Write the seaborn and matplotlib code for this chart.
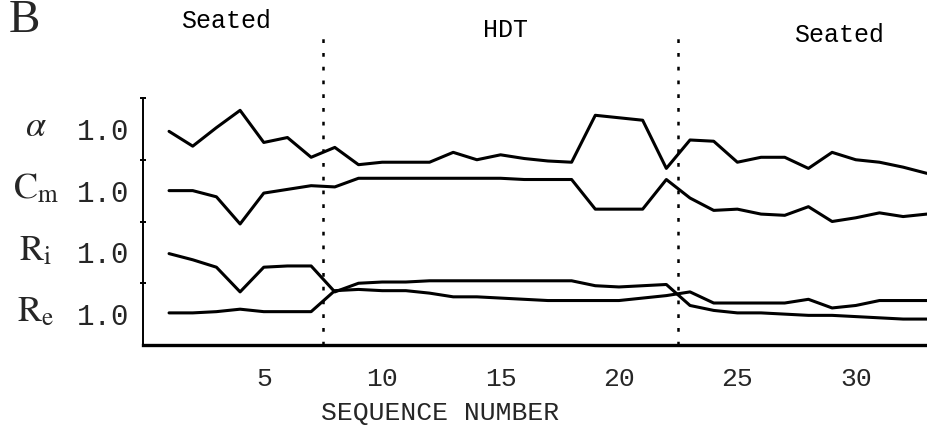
import numpy as np
import pandas as pd
import matplotlib
matplotlib.use("Agg")
import matplotlib.pyplot as plt
import seaborn as sns

# ---- data ----
seq = list(range(1, 34))
alpha = [0.98, 0.86, 1.01, 1.15, 0.89, 0.93, 0.77, 0.85, 0.71, 0.73, 0.73, 0.73, 0.81,
         0.75, 0.79, 0.76, 0.74, 0.73, 1.11, 1.09, 1.07, 0.68, 0.91, 0.90, 0.73, 0.77,
         0.77, 0.68, 0.81, 0.75, 0.73, 0.69, 0.64]
c_m = [1.00, 1.00, 0.95, 0.73, 0.98, 1.01, 1.04, 1.03, 1.10, 1.10, 1.10, 1.10, 1.10,
       1.10, 1.10, 1.09, 1.09, 1.09, 0.85, 0.85, 0.85, 1.09, 0.94, 0.84, 0.85, 0.81,
       0.80, 0.87, 0.75, 0.78, 0.82, 0.79, 0.81]
r_i = [0.99, 0.94, 0.88, 0.68, 0.88, 0.89, 0.89, 0.68, 0.75, 0.76, 0.76, 0.77, 0.77,
       0.77, 0.77, 0.77, 0.77, 0.77, 0.73, 0.72, 0.73, 0.74, 0.57, 0.53, 0.51, 0.51,
       0.50, 0.49, 0.49, 0.48, 0.47, 0.46, 0.46]
r_e = [1.01, 1.01, 1.02, 1.04, 1.02, 1.02, 1.02, 1.19, 1.20, 1.19, 1.19, 1.17, 1.14,
       1.14, 1.13, 1.12, 1.11, 1.11, 1.11, 1.11, 1.13, 1.15, 1.18, 1.09, 1.09, 1.09,
       1.09, 1.12, 1.05, 1.07, 1.11, 1.11, 1.11]
series_names = ["alpha", "Cm", "Ri", "Re"]
series_labels = [r"$\alpha$", r"$\mathrm{C}_{\mathrm{m}}$", r"$\mathrm{R}_{\mathrm{i}}$", r"$\mathrm{R}_{\mathrm{e}}$"]
baseline_labels = ["1.0", "1.0", "1.0", "1.0"]
x_ticks = [5, 10, 15, 20, 25, 30]
phase_bounds = [7.5, 22.5]
phase_labels = ["Seated", "HDT", "Seated"]
phase_label_x = [3.4, 15.2, 29.3]
phase_label_y = [5.24, 5.1, 5.02]

# stacking: each trace drawn in its own band, ratio 1.0 at band centre
offsets = [3.5, 2.5, 1.5, 0.5]
gain = 2.0

rows = []
for name, vals, off in zip(series_names, [alpha, c_m, r_i, r_e], offsets):
    for n, v in zip(seq, vals):
        rows.append({"seq": n, "series": name, "y": off + (v - 1.0) * gain})
df = pd.DataFrame(rows)

sns.set_theme(style="white")
plt.rcParams["font.family"] = ["Liberation Mono", "DejaVu Sans"]
plt.rcParams["mathtext.fontset"] = "stix"

fig = plt.figure(figsize=(9.28, 4.46), dpi=100)
ax = fig.add_axes([143 / 928, (446 - 345) / 446, 1 - 143 / 928, 345 / 446])

sns.lineplot(data=df, x="seq", y="y", units="series", estimator=None,
             color="black", lw=2.2, ax=ax, legend=False)

ax.set_xlim(-0.1, 33.05)
ax.set_ylim(0, 345 / 61.75)

for xb in phase_bounds:
    ax.plot([xb, xb], [0, 5.02], color="black", lw=1.8, ls=(0, (1.5, 4)), clip_on=False)

for lbl, xl, yl in zip(phase_labels, phase_label_x, phase_label_y):
    ax.text(xl, yl, lbl, ha="center", va="center", fontsize=18, color="black")

ax.spines["top"].set_visible(False)
ax.spines["right"].set_visible(False)
ax.spines["left"].set_bounds(0, 4)
ax.spines["left"].set_linewidth(1.4)
ax.spines["bottom"].set_linewidth(2.4)
for s in ["left", "bottom"]:
    ax.spines[s].set_color("black")

ax.set_xticks(x_ticks)
ax.set_xticklabels([str(t) for t in x_ticks], fontsize=19)
ax.tick_params(axis="x", length=0, pad=16)

ax.set_yticks(offsets)
ax.set_yticklabels(baseline_labels, fontsize=21)
ax.set_yticks([1, 2, 3, 4], minor=True)
ax.tick_params(axis="y", which="major", length=0, pad=10)
ax.tick_params(axis="y", which="minor", left=True, length=5, width=1.4, direction="inout", color="black")

ax.set_xlabel("SEQUENCE NUMBER", fontsize=19)
ax.xaxis.set_label_coords((440 - 143) / 785, -(401 - 345) / 345)
ax.set_ylabel("")

for lbl, off in zip(series_labels, offsets):
    ypx = 345 - off * 61.75
    fig.text(36 / 928, 1 - (ypx - 2) / 446, lbl, ha="center", va="center", fontsize=26)

fig.text(24 / 928, 1 - 21 / 446, "B", ha="center", va="center", fontsize=34,
         family="Liberation Serif")

fig.savefig("out.png", dpi=100)
